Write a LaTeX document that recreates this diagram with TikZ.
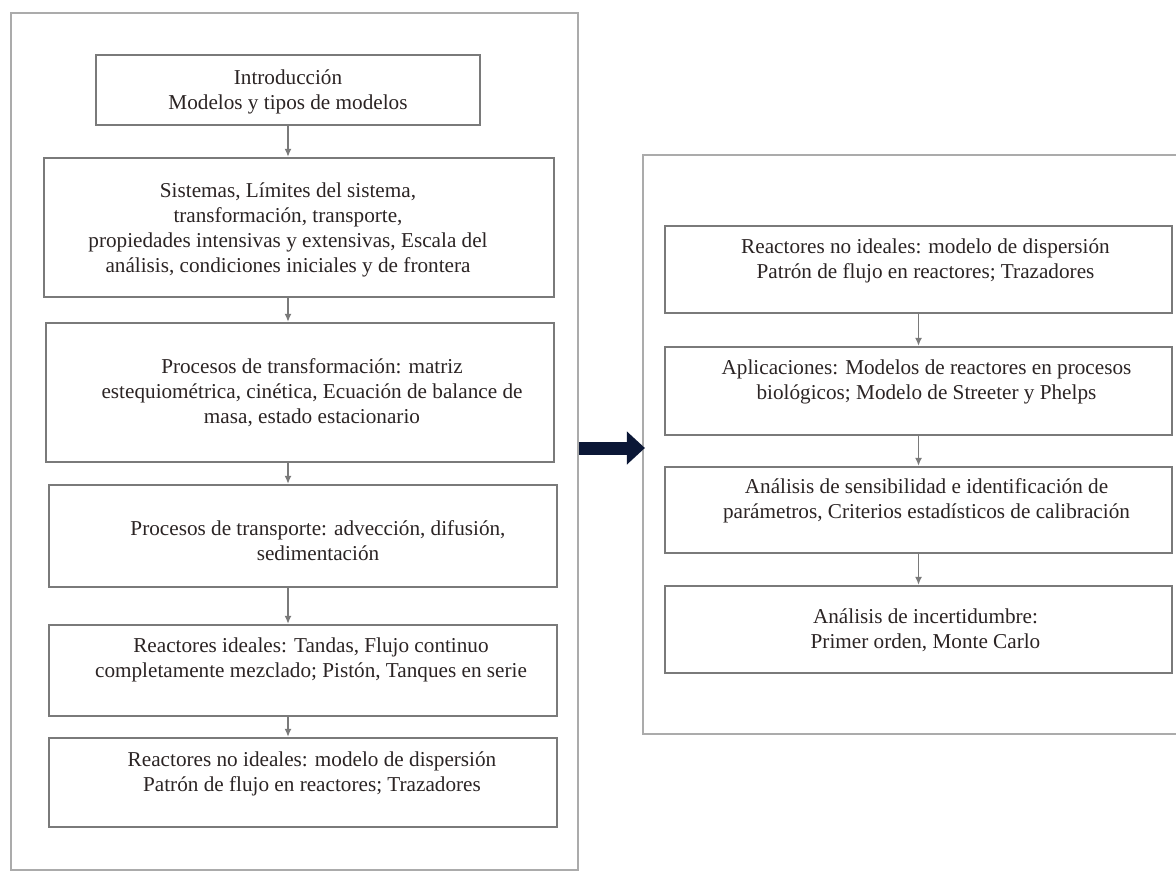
\documentclass[tikz,border=0pt]{standalone}
\usepackage{fontspec}
\setmainfont{Liberation Serif}
\usetikzlibrary{arrows.meta}

\definecolor{boxline}{HTML}{7A7A7A}
\definecolor{frameline}{HTML}{ABABAB}
\definecolor{inktext}{HTML}{2B2424}
\definecolor{navy}{HTML}{0B1736}

\tikzset{
  box/.style={draw=boxline, line width=1.1pt, inner sep=0pt, minimum width=254pt},
  panel/.style={draw=frameline, line width=1.1pt, inner sep=0pt},
  txt/.style={align=center, text=inktext, font=\fontsize{10.6}{12.5}\selectfont},
  flow/.style={draw=boxline, line width=0.8pt, -{Latex[length=4pt,width=3.5pt]}},
  bigarrow/.style={draw=navy, line width=6.5pt, -{Triangle[length=9pt,width=16pt]}}
}

\begin{document}
\begin{tikzpicture}[x=0.5pt,y=-0.5pt]
    \clip (0,0) rectangle (1176,873);
    \fill[white] (0,0) rectangle (1176,873);

    % the two panels
    \node[panel, minimum width=283.5pt, minimum height=428.5pt] (leftpanel) at (294.5,441.5) {};
    \node[panel, minimum width=269.5pt, minimum height=289.5pt] (rightpanel) at (912.5,444.5) {};

    % left column
    \node[box, minimum width=192pt, minimum height=35pt,
      label={[txt,shift={(0,2)}]center:{Introducción\\Modelos y tipos de modelos}}] (intro) at (288,90) {};
    \node[box, minimum width=255pt, minimum height=69.5pt,
      label={[txt,shift={(-11,2)}]center:{Sistemas, Límites del sistema,\\transformación, transporte,\\propiedades intensivas y extensivas, Escala del\\análisis, condiciones iniciales y de frontera}}] (sys) at (299,227.5) {};
    \node[box, minimum height=69.5pt,
      label={[txt,shift={(12,0)}]center:{Procesos de transformación: matriz\\estequiométrica, cinética, Ecuación de balance de\\masa, estado estacionario}}] (trans) at (300,392.5) {};
    \node[box, minimum height=51pt,
      label={[txt,shift={(15,5)}]center:{Procesos de transporte: advección, difusión,\\sedimentación}}] (transp) at (303,536) {};
    \node[box, minimum height=45.5pt,
      label={[txt,shift={(8,-11)}]center:{Reactores ideales: Tandas, Flujo continuo\\completamente mezclado; Pistón, Tanques en serie}}] (ideal) at (303,670.5) {};
    \node[box, minimum height=44.5pt,
      label={[txt,shift={(9,-9)}]center:{Reactores no ideales: modelo de dispersión\\Patrón de flujo en reactores; Trazadores}}] (nonideal) at (303,782.5) {};

    \draw[flow] (intro.south) -- (sys.north -| intro.south);
    \foreach \a/\b in {sys/trans,trans/transp,transp/ideal,ideal/nonideal}
      \draw[flow] (\a.south -| intro.south) -- (\b.north -| intro.south);

    % right column
    \node[box, minimum width=253.5pt, minimum height=43.5pt,
      label={[txt,shift={(7,-9)}]center:{Reactores no ideales: modelo de dispersión\\Patrón de flujo en reactores; Trazadores}}] (rnonideal) at (918.5,269.5) {};
    \node[box, minimum width=253.5pt, minimum height=44pt,
      label={[txt,shift={(8,-9)}]center:{Aplicaciones: Modelos de reactores en procesos\\biológicos; Modelo de Streeter y Phelps}}] (appl) at (918.5,391) {};
    \node[box, minimum width=253.5pt, minimum height=43pt,
      label={[txt,shift={(8,-9)}]center:{Análisis de sensibilidad e identificación de\\parámetros, Criterios estadísticos de calibración}}] (sens) at (918.5,510) {};
    \node[box, minimum width=253.5pt, minimum height=43.5pt,
      label={[txt,shift={(7,1)}]center:{Análisis de incertidumbre:\\Primer orden, Monte Carlo}}] (unc) at (918.5,629.5) {};

    \foreach \a/\b in {rnonideal/appl,appl/sens,sens/unc}
      \draw[flow] (\a.south) -- (\b.north);

    % from the first block to the second
    \coordinate (level) at (610,448);
    \draw[bigarrow] (leftpanel.east |- level) -- ([xshift=1.5pt]rightpanel.west |- level);
\end{tikzpicture}
\end{document}
